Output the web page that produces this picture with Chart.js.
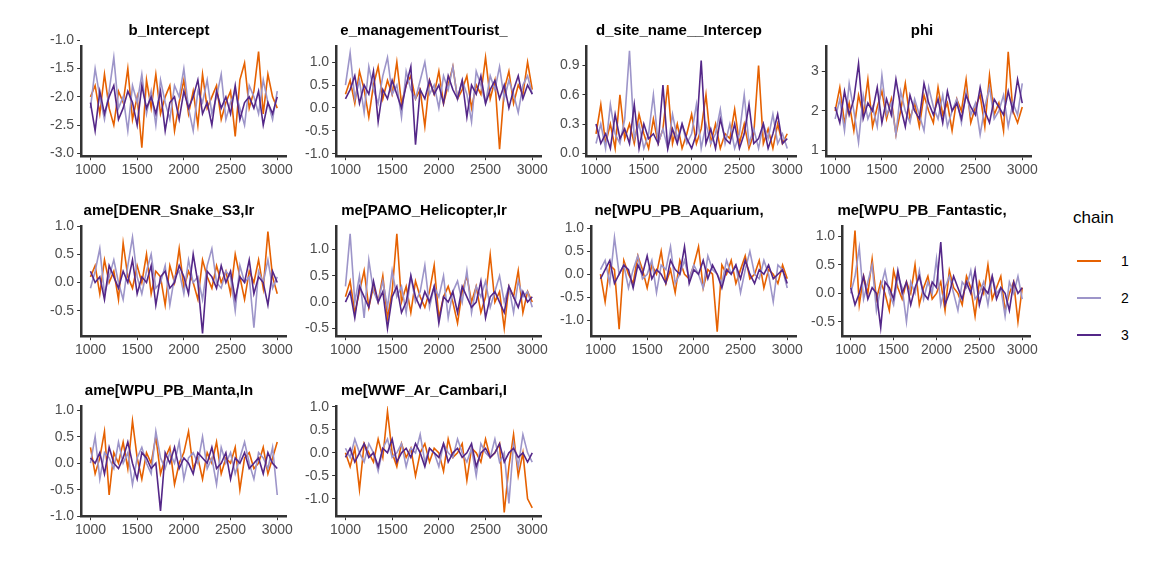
<!DOCTYPE html>
<html>
<head>
<meta charset="utf-8">
<script src="https://cdn.jsdelivr.net/npm/chart.js@4"></script>
<style>
  body { margin: 0; background: #fff; font-family: "Liberation Sans", Arial, sans-serif; }
  #wrap { position: relative; width: 1152px; height: 576px; }
  .panel { position: absolute; width: 248px; height: 163px; }
  #legend { position: absolute; left: 1073px; top: 208px; font-size: 17px; color: #000; }
  .item { display: flex; align-items: center; height: 37px; font-size: 14px; }
  .sw { width: 24px; height: 2px; margin: 0 20px 0 4px; }
</style>
</head>
<body>
<div id="wrap">
  <div id="legend">
    <div style="margin-bottom:14px">chain</div>
    <div class="item"><span class="sw" style="background:#e66101"></span>1</div>
    <div class="item"><span class="sw" style="background:#9d95c9"></span>2</div>
    <div class="item"><span class="sw" style="background:#542788"></span>3</div>
  </div>
</div>
<script>
const iters = [1000,1050,1100,1150,1200,1250,1300,1350,1400,1450,1500,1550,1600,1650,1700,1750,1800,1850,1900,1950,2000,2050,2100,2150,2200,2250,2300,2350,2400,2450,2500,2550,2600,2650,2700,2750,2800,2850,2900,2950,3000];
const xTicks = [1000, 1500, 2000, 2500, 3000];

const titles = ["b_Intercept", "e_managementTourist_", "d_site_name__Intercep", "phi",
  "ame[DENR_Snake_S3,Ir", "me[PAMO_Helicopter,Ir", "ne[WPU_PB_Aquarium,", "me[WPU_PB_Fantastic,",
  "ame[WPU_PB_Manta,In", "me[WWF_Ar_Cambari,I"];

const yTicks = [
  [-3.0, -2.5, -2.0, -1.5, -1.0],
  [-1.0, -0.5, 0.0, 0.5, 1.0],
  [0.0, 0.3, 0.6, 0.9],
  [1, 2, 3],
  [-0.5, 0.0, 0.5, 1.0],
  [-0.5, 0.0, 0.5, 1.0],
  [-1.0, -0.5, 0.0, 0.5, 1.0],
  [-0.5, 0.0, 0.5, 1.0],
  [-1.0, -0.5, 0.0, 0.5, 1.0],
  [-1.0, -0.5, 0.0, 0.5, 1.0]
];
const yRange = [[-3.05, -1.1], [-1.05, 1.35], [-0.03, 1.1], [0.85, 3.65], [-0.95, 1.0],
  [-0.65, 1.45], [-1.35, 1.05], [-0.75, 1.18], [-1.0, 1.08], [-1.38, 1.02]];

const chain1 = [
  [-2.0,-1.8,-2.3,-1.6,-2.2,-2.5,-1.9,-2.1,-1.5,-2.4,-2.0,-2.9,-1.7,-2.2,-1.6,-2.3,-2.0,-1.8,-2.6,-2.1,-1.7,-2.3,-1.9,-2.5,-1.6,-2.2,-2.0,-1.8,-2.4,-2.1,-1.9,-2.7,-1.7,-1.4,-2.2,-1.9,-1.2,-2.3,-1.6,-2.0,-2.2],
  [0.3,0.6,0.1,0.8,0.4,-0.2,0.5,0.9,0.2,0.6,0.3,1.0,0.1,0.5,0.7,0.2,0.4,-0.4,0.6,0.3,0.8,0.1,0.5,0.9,0.2,0.4,0.7,0.0,0.5,0.3,1.1,0.2,0.6,-0.9,0.4,0.8,0.1,0.5,0.3,1.0,0.4],
  [0.2,0.5,0.1,0.3,0.05,0.6,0.15,0.3,0.1,0.4,0.2,0.05,0.35,0.1,0.25,0.7,0.1,0.3,0.05,0.2,0.4,0.1,0.25,0.6,0.1,0.3,0.05,0.2,0.15,0.45,0.1,0.3,0.05,0.2,0.9,0.1,0.25,0.05,0.3,0.1,0.2],
  [2.0,2.6,1.7,2.2,1.5,2.4,1.9,2.8,1.6,2.1,2.5,1.8,2.3,1.4,2.0,2.7,1.8,2.2,1.6,2.4,2.0,1.7,2.6,1.9,2.2,1.5,2.3,2.0,2.8,1.7,2.1,2.4,1.6,2.9,1.9,2.2,1.5,3.5,2.0,1.7,2.1],
  [0.1,0.3,-0.2,0.4,0.0,0.2,-0.3,0.7,0.1,-0.1,0.3,0.0,0.5,-0.2,0.2,0.1,-0.4,0.3,0.0,0.6,-0.1,0.2,0.0,-0.3,0.4,0.1,-0.1,0.3,0.0,0.2,-0.2,0.5,0.1,-0.3,0.2,0.0,0.4,-0.1,0.9,0.1,-0.2],
  [0.1,0.4,-0.2,0.2,0.6,-0.1,0.3,0.0,0.5,-0.3,0.2,1.3,0.0,0.3,-0.2,0.4,0.1,-0.1,0.2,0.7,-0.3,0.1,0.3,0.0,-0.4,0.2,0.5,0.0,0.3,-0.2,0.1,0.9,0.0,0.2,-0.5,0.3,0.1,0.6,-0.2,0.2,0.0],
  [0.0,-0.6,0.2,0.1,-1.2,0.3,0.0,-0.2,0.4,0.1,-0.3,0.2,0.0,0.5,-0.2,0.1,-0.4,0.3,0.0,-0.1,0.2,0.6,-0.3,0.1,0.0,-1.25,0.2,0.0,0.3,-0.2,0.1,0.4,-0.1,0.0,0.3,-0.3,0.1,0.0,-0.2,0.2,-0.1],
  [0.1,1.1,-0.2,0.3,0.0,0.6,-0.1,0.2,0.0,-0.3,0.4,0.1,-0.1,0.2,0.0,0.5,-0.2,0.1,0.3,-0.1,0.0,0.2,-0.3,0.4,0.1,0.0,-0.2,0.3,0.1,-0.4,0.2,0.0,0.5,-0.1,0.1,0.3,-0.3,0.0,0.2,-0.5,0.1],
  [0.3,-0.2,0.1,0.6,-0.6,0.2,0.0,0.4,-0.1,0.8,0.1,-0.3,0.2,0.0,0.5,-0.2,0.1,0.3,-0.4,0.0,0.2,0.6,-0.1,0.1,-0.3,0.2,0.0,0.4,-0.2,0.1,0.0,0.3,-0.5,0.1,0.2,-0.1,0.0,0.3,-0.2,0.1,0.4],
  [0.0,-0.3,0.1,-0.8,0.2,0.0,-0.2,0.3,-0.1,0.9,0.0,-0.3,0.2,-0.1,0.1,-0.5,0.0,0.2,-0.2,0.1,0.0,-0.4,0.3,-0.1,0.0,0.2,-0.6,0.1,0.0,-0.2,0.3,-0.1,0.0,0.2,-1.3,-0.3,0.4,-0.5,0.0,-1.0,-1.2]
];
const chain2 = [
  [-2.2,-1.5,-2.0,-2.4,-1.9,-1.3,-2.2,-2.0,-2.6,-1.8,-2.1,-1.6,-2.3,-1.9,-2.5,-1.7,-2.1,-2.4,-1.8,-2.0,-1.5,-2.2,-2.6,-1.9,-2.1,-1.7,-2.3,-2.0,-1.6,-2.4,-2.1,-1.9,-2.2,-2.5,-1.8,-2.0,-2.3,-1.7,-2.1,-2.4,-1.9],
  [0.5,1.2,0.2,0.6,-0.1,0.9,0.4,0.1,0.7,1.1,0.3,0.5,-0.2,0.8,0.4,0.2,0.6,1.0,0.3,0.5,0.0,0.7,0.4,0.9,0.2,0.6,0.3,-0.3,0.8,0.5,0.1,0.7,0.4,0.9,0.2,0.6,0.3,-0.1,0.5,0.7,0.3],
  [0.1,0.3,0.05,0.5,0.2,0.1,0.35,1.05,0.15,0.3,0.05,0.2,0.6,0.1,0.25,0.05,0.4,0.15,0.3,0.1,0.2,0.5,0.05,0.3,0.1,0.2,0.45,0.1,0.3,0.05,0.2,0.6,0.1,0.25,0.05,0.3,0.15,0.4,0.1,0.2,0.05],
  [1.8,2.3,1.5,2.7,2.0,1.2,2.4,1.8,2.1,1.6,2.9,1.9,2.2,1.4,2.5,2.0,1.7,2.3,1.9,1.5,2.6,2.1,1.8,2.4,1.6,2.0,2.3,1.7,2.5,1.9,2.2,1.4,2.1,2.6,1.8,2.0,2.4,1.6,2.2,1.9,2.7],
  [-0.1,0.2,0.6,-0.2,0.1,0.4,0.0,-0.3,0.3,0.8,0.1,-0.2,0.2,0.5,-0.1,0.0,0.3,-0.4,0.1,0.2,-0.2,0.4,0.0,0.1,-0.3,0.3,0.6,0.0,-0.1,0.2,0.1,-0.5,0.3,0.0,0.1,-0.8,0.2,0.0,0.4,-0.1,0.1],
  [0.3,1.3,0.0,0.5,-0.3,0.8,0.2,0.0,0.4,-0.1,0.6,0.1,0.3,-0.2,0.5,0.0,0.2,0.7,-0.1,0.3,0.1,0.5,-0.3,0.2,0.4,0.0,0.6,-0.2,0.3,0.1,0.4,-0.1,0.2,0.5,0.0,0.3,-0.2,0.4,0.1,0.2,-0.1],
  [0.1,0.3,-0.2,0.8,0.0,0.2,-0.3,0.1,0.4,-0.1,0.0,0.3,-0.4,0.2,0.1,0.6,-0.2,0.0,0.3,-0.1,0.2,0.0,-0.3,0.4,0.1,0.0,-0.2,0.3,0.0,0.2,-0.4,0.1,0.5,0.0,-0.1,0.3,0.0,-0.6,0.2,0.1,-0.3],
  [0.0,0.3,0.8,-0.1,0.2,0.5,-0.3,0.1,0.4,0.0,-0.2,0.3,0.1,-0.5,0.2,0.0,0.4,-0.1,0.2,0.0,0.6,-0.2,0.1,0.3,0.0,-0.3,0.2,0.1,0.4,-0.1,0.0,0.2,-0.2,0.3,0.0,0.1,-0.4,0.2,0.0,0.3,-0.1],
  [0.0,0.5,-0.3,0.2,0.1,-0.1,0.4,0.0,0.2,-0.4,0.1,0.3,0.0,-0.2,0.6,0.1,-0.1,0.2,0.0,0.4,-0.3,0.1,0.2,0.0,0.5,-0.1,0.1,-0.4,0.3,0.0,0.2,-0.2,0.1,0.4,0.0,-0.3,0.2,0.1,-0.1,0.3,-0.6],
  [0.1,-0.1,0.3,0.0,-0.2,0.2,0.0,-0.4,0.1,0.3,-0.1,0.0,0.2,-0.3,0.1,0.0,0.4,-0.2,0.1,0.0,-0.3,0.2,0.0,-0.1,0.3,0.0,-0.2,0.1,-0.5,0.2,0.0,-0.1,0.3,-0.2,0.0,-1.1,0.2,-0.3,0.4,0.0,-0.2]
];
const chain3 = [
  [-2.1,-2.6,-1.9,-2.3,-2.0,-1.8,-2.4,-2.2,-1.9,-2.1,-2.5,-1.8,-2.2,-2.0,-2.3,-1.9,-2.6,-2.1,-2.0,-2.4,-1.9,-2.2,-2.0,-1.7,-2.3,-2.1,-2.5,-1.9,-2.2,-2.0,-2.3,-1.8,-2.4,-2.1,-2.0,-2.2,-1.9,-2.5,-2.1,-2.3,-2.0],
  [0.2,0.4,0.7,0.1,0.5,0.3,0.8,-0.3,0.4,0.2,0.6,0.3,0.0,0.5,0.9,-0.8,0.4,0.2,0.6,0.3,0.5,0.1,0.7,0.4,0.2,0.6,-0.2,0.5,0.3,0.7,0.1,0.4,0.6,0.2,0.5,0.0,0.4,0.7,0.2,0.5,0.3],
  [0.3,0.1,0.2,0.05,0.4,0.15,0.25,0.1,0.5,0.05,0.3,0.15,0.2,0.1,0.7,0.05,0.25,0.1,0.3,0.15,0.05,0.2,0.95,0.1,0.25,0.05,0.35,0.15,0.1,0.3,0.05,0.2,0.5,0.1,0.15,0.3,0.05,0.2,0.4,0.1,0.15],
  [2.1,1.7,2.5,1.9,2.3,3.2,1.8,2.2,2.0,2.6,1.7,2.3,1.9,2.8,2.1,1.6,2.4,2.0,1.8,2.7,2.2,1.9,2.3,1.7,2.5,2.0,2.2,1.8,2.4,2.1,1.9,2.6,2.0,1.7,2.3,2.1,1.9,2.5,2.0,2.8,2.2],
  [0.2,0.0,0.1,-0.3,0.3,0.1,-0.1,0.2,0.0,0.4,-0.2,0.1,0.0,0.3,-0.4,0.1,0.2,-0.1,0.0,0.3,0.1,-0.2,0.5,0.0,-0.9,0.2,0.1,-0.1,0.3,0.0,0.2,-0.3,0.1,0.0,0.4,-0.2,0.1,0.0,-0.4,0.2,0.0],
  [0.0,0.2,-0.3,0.3,0.1,-0.1,0.4,0.0,0.2,-0.5,0.1,0.3,-0.2,0.0,0.5,0.1,-0.1,0.2,0.0,0.3,-0.4,0.1,0.0,0.2,-0.2,0.3,0.1,-0.1,0.0,0.4,-0.3,0.1,0.2,0.0,-0.2,0.3,0.1,-0.1,0.2,0.0,0.1],
  [-0.1,0.1,0.3,-0.2,0.0,0.2,0.1,-0.3,0.2,0.0,0.4,-0.1,0.1,0.0,-0.2,0.3,0.1,0.0,0.6,-0.2,0.1,0.0,0.3,-0.1,0.2,0.0,-0.3,0.1,0.0,0.2,-0.1,0.3,0.0,-0.2,0.1,0.0,0.2,-0.1,0.0,0.1,-0.2],
  [0.1,-0.2,0.0,0.3,-0.1,0.1,0.0,-0.6,0.2,0.1,-0.1,0.4,0.0,0.2,-0.2,0.1,0.3,0.0,-0.1,0.2,0.1,0.9,-0.2,0.0,0.3,0.1,-0.1,0.2,0.0,0.4,-0.2,0.1,0.0,0.3,-0.1,0.1,0.0,-0.3,0.2,0.0,0.1],
  [0.1,0.0,0.2,-0.2,0.3,0.0,-0.1,0.1,0.4,0.0,-0.3,0.2,0.1,-0.1,0.0,-0.9,0.2,0.0,0.3,-0.1,0.1,0.0,-0.2,0.2,0.1,0.0,0.3,-0.1,0.0,0.2,-0.3,0.1,0.0,0.2,-0.1,0.0,0.1,-0.2,0.2,0.0,-0.1],
  [-0.1,0.1,-0.2,0.0,0.2,-0.1,0.0,-0.3,0.1,0.0,0.3,-0.2,0.0,0.1,-0.1,0.2,0.0,-0.3,0.1,0.0,-0.1,0.2,-0.2,0.0,0.1,-0.1,0.0,0.2,-0.3,0.0,0.1,-0.1,0.0,0.2,-0.2,0.0,0.1,-0.1,0.0,-0.2,0.0]
];

const colors = ["#e66101", "#9d95c9", "#542788"];
const colLeft = [47, 302, 557, 808];
const rowTop = [18, 198, 378];

function pts(vals) {
  return vals.map((v, i) => ({ x: iters[i], y: v }));
}

function desenharPainel(i) {
  const div = document.createElement("div");
  div.className = "panel";
  div.style.left = colLeft[i % 4] + "px";
  div.style.top = rowTop[Math.floor(i / 4)] + "px";
  if (i % 4 === 3) div.style.width = "232px";
  const canvas = document.createElement("canvas");
  div.appendChild(canvas);
  document.getElementById("wrap").appendChild(div);

  const ticks = yTicks[i];
  const dec = i === 3 ? 0 : 1;
  const eixo = {
    color: "#4d4d4d",
    font: { size: 14, family: "Liberation Sans" },
  };

  new Chart(canvas, {
    type: "line",
    data: {
      datasets: [chain1[i], chain2[i], chain3[i]].map((d, k) => ({
        label: String(k + 1),
        data: pts(d),
        borderColor: colors[k],
        borderWidth: 1.6,
        pointRadius: 0,
        tension: 0,
        order: 2 - k,
      })),
    },
    options: {
      animation: false,
      responsive: true,
      maintainAspectRatio: false,
      layout: { padding: { right: 4 } },
      plugins: {
        legend: { display: false },
        tooltip: { enabled: false },
        title: {
          display: true,
          text: titles[i],
          color: "#000",
          font: { size: 15, weight: "bold", family: "Liberation Sans" },
          padding: { top: 4, bottom: 6 },
        },
      },
      scales: {
        x: {
          type: "linear",
          min: 900,
          max: 3100,
          afterBuildTicks: (s) => { s.ticks = xTicks.map((v) => ({ value: v })); },
          ticks: { ...eixo, maxRotation: 0, autoSkip: false, padding: 2, callback: (v) => String(v) },
          grid: { display: true, drawOnChartArea: false, tickLength: 4, color: "#333", tickWidth: 1 },
          border: { color: "#333", width: 2.5 },
        },
        y: {
          min: yRange[i][0],
          max: yRange[i][1],
          afterBuildTicks: (s) => { s.ticks = ticks.map((v) => ({ value: v })); },
          ticks: { ...eixo, autoSkip: false, padding: 3, callback: (v) => Number(v).toFixed(dec) },
          grid: { display: true, drawOnChartArea: false, tickLength: 4, color: "#333", tickWidth: 1 },
          border: { color: "#333", width: 2.5 },
        },
      },
    },
  });
}

window.onload = () => {
  for (let i = 0; i < titles.length; i++) desenharPainel(i);
};
</script>
</body>
</html>
